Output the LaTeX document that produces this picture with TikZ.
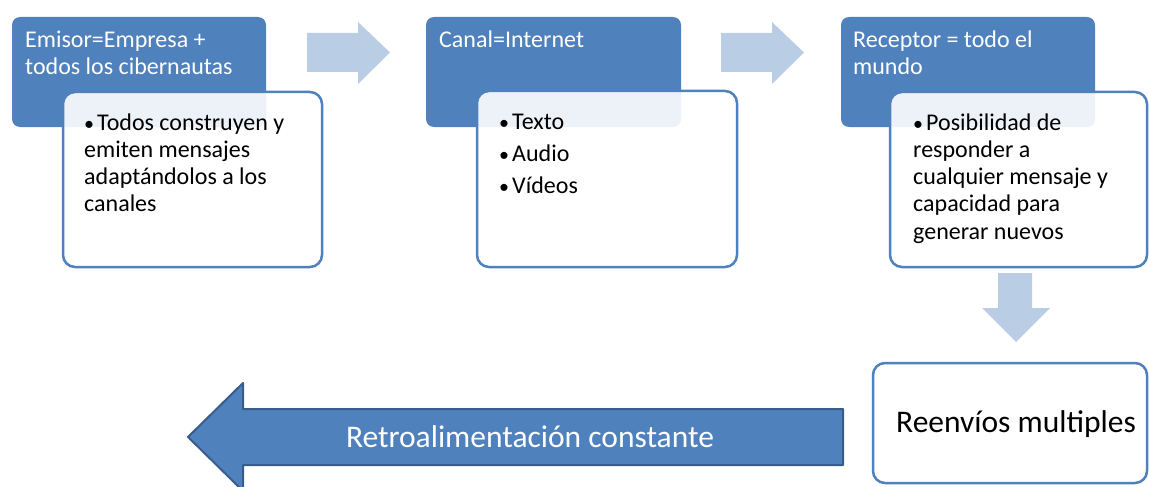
\documentclass[tikz,border=0pt]{standalone}
\usepackage{fontspec}
\setmainfont{Carlito}
\definecolor{dkblue}{HTML}{4F81BD}
\definecolor{ltblue}{HTML}{B9CDE5}
\definecolor{edgeblue}{HTML}{385D8A}
\newcommand{\bul}[1]{\makebox[#1][l]{\fontsize{20}{20}\selectfont •}}
\begin{document}
\begin{tikzpicture}[x=1pt,y=-1pt,
  titlebox/.style={fill=dkblue, rounded corners=8pt, inner sep=0pt},
  bodybox/.style={draw=dkblue, line width=2.5pt, fill=white, fill opacity=0.9, draw opacity=1, rounded corners=12pt, inner sep=0pt},
  titletext/.style={anchor=base west, inner sep=0pt, text=white, font=\fontsize{24}{26.5}\selectfont},
  bodytext/.style={anchor=base west, inner sep=0pt, text=black, font=\fontsize{24}{27.3}\selectfont},
  flowarrow/.style={fill=ltblue},
  bigtext/.style={inner sep=0pt, font=\fontsize{31.5}{34}\selectfont}
]
\useasboundingbox (0,0) rectangle (1149,487);

% Box 1
\node[titlebox, minimum width=254pt, minimum height=110pt] (t1) at (139,72) {};
\node[titletext] (t1txt) at (25,48) {\parbox[t]{240pt}{Emisor=Empresa +\\todos los cibernautas}};
\node[bodybox, minimum width=259pt, minimum height=175pt] (b1) at (192.5,179.5) {};
\node[bodytext] (b1txt) at (84,130) {\parbox[t]{235pt}{\raggedright\hangindent=13pt\hangafter=1\bul{13pt}Todos construyen y\\emiten mensajes\\adaptándolos a los\\canales}};

% Box 2
\node[titlebox, minimum width=255pt, minimum height=110pt] (t2) at (553.5,72) {};
\node[titletext] (t2txt) at (439,48) {Canal=Internet};
\node[bodybox, minimum width=260pt, minimum height=176pt] (b2) at (607,179) {};
\node[bodytext] (b2txt) at (499,129) {\parbox[t]{220pt}{\baselineskip=32pt\bul{13pt}Texto\\\bul{13pt}Audio\\\bul{13pt}Vídeos}};

% Box 3
\node[titlebox, minimum width=254pt, minimum height=110pt] (t3) at (968,72) {};
\node[titletext] (t3txt) at (853,48) {\parbox[t]{240pt}{Receptor = todo el\\mundo}};
\node[bodybox, minimum width=257pt, minimum height=175pt] (b3) at (1018.5,179.5) {};
\node[bodytext] (b3txt) at (913,130) {\parbox[t]{235pt}{\raggedright\hangindent=13pt\hangafter=1\bul{13pt}Posibilidad de\\responder a\\cualquier mensaje y\\capacidad para\\generar nuevos}};

% Reenvios
\node[bodybox, minimum width=274pt, minimum height=120pt, fill opacity=1] (r) at (1010,423) {};
\node[bigtext, anchor=base west] (rtxt) at (896,432) {Reenvíos multiples};

% flow arrows
\fill[flowarrow] (307,33) -- (358,33) -- (358,22) -- (390,52.5) -- (358,84) -- (358,72) -- (307,72) -- cycle;
\fill[flowarrow] (721,33) -- (772,33) -- (772,22) -- (804,52.5) -- (772,84) -- (772,72) -- (721,72) -- cycle;
\fill[flowarrow] (998,273) -- (1032,273) -- (1032,308) -- (1050,308) -- (1016,342) -- (982,308) -- (998,308) -- cycle;

% big feedback arrow
\draw[fill=dkblue, draw=edgeblue, line width=2pt, line join=round] (188,437) -- (243,383) -- (243,409) -- (843,409) -- (843,465) -- (243,465) -- (243,491) -- cycle;
\node[bigtext, text=white] (fb) at (530,437) {Retroalimentación constante};
\end{tikzpicture}
\end{document}
